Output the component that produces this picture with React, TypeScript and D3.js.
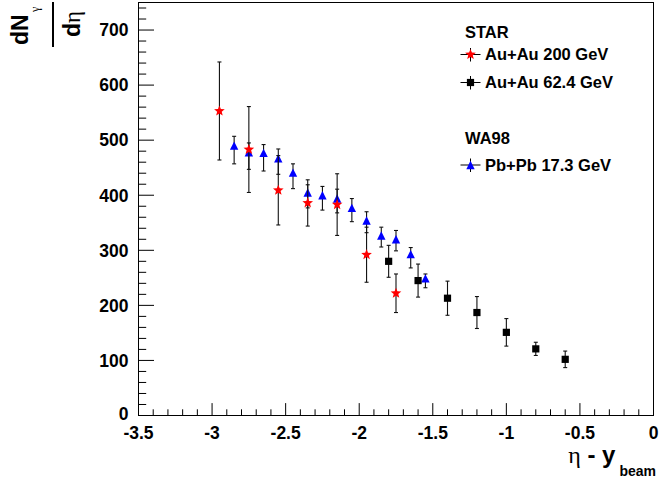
import React from "react";
import * as d3 from "d3";

// STAR Au+Au 200 GeV
const starX = [-2.95, -2.75, -2.55, -2.35, -2.15, -1.95, -1.75];
const starY = [553, 483, 409, 386, 383, 292, 222];
const starErr = [89, 78, 63, 42, 56, 50, 35];

// STAR Au+Au 62.4 GeV
const sqX = [-1.8, -1.6, -1.4, -1.2, -1.0, -0.8, -0.6];
const sqY = [280, 245, 213, 187, 151, 121, 102];
const sqErr = [29, 30, 31, 29, 25, 12, 15];

// WA98 Pb+Pb 17.3 GeV (asymmetric errors)
const triX = [-2.85, -2.75, -2.65, -2.55, -2.45, -2.35, -2.25, -2.15, -2.05, -1.95, -1.85, -1.75, -1.65, -1.55];
const triY = [490, 478, 477, 467, 441, 405, 400, 394, 377, 354, 327, 320, 293, 249];
const triErrHigh = [17, 17, 15, 17, 16, 14, 16, 17, 17, 16, 15, 16, 12, 8];
const triErrLow = [33, 31, 33, 29, 29, 28, 27, 26, 25, 22, 21, 21, 25, 17];

const xTicks = [-3.5, -3, -2.5, -2, -1.5, -1, -0.5, 0];
const xTickLabels = ["-3.5", "-3", "-2.5", "-2", "-1.5", "-1", "-0.5", "0"];
const yTicks = [0, 100, 200, 300, 400, 500, 600, 700];
const yTickLabels = ["0", "100", "200", "300", "400", "500", "600", "700"];

const W = 659;
const H = 482;
const FONT = "'Liberation Sans', Arial, Helvetica, sans-serif";
const SERIF = "'Liberation Serif', 'DejaVu Serif', serif";

const x = d3.scaleLinear().domain([-3.5, 0]).range([138.5, 653.5]);
const y = d3.scaleLinear().domain([0, 750]).range([415.5, 2.5]);

function starPath(cx: number, cy: number, R: number, r: number) {
  const pts: [number, number][] = [];
  for (let i = 0; i < 10; i++) {
    const a = -Math.PI / 2 + (i * Math.PI) / 5;
    const rad = i % 2 === 0 ? R : r;
    pts.push([cx + rad * Math.cos(a), cy + rad * Math.sin(a)]);
  }
  return d3.line()(pts) + "Z";
}

function triPath(cx: number, cy: number, h: number) {
  return d3.line()([
    [cx - h, cy + h],
    [cx + h, cy + h],
    [cx, cy - h],
  ]) + "Z";
}

type MarkerKind = "star" | "square" | "tri";

function Marker({ kind, cx, cy }: { kind: MarkerKind; cx: number; cy: number }) {
  if (kind === "star") return <path d={starPath(cx, cy, 5.6, 2.4)} fill="#ff0000" />;
  if (kind === "square") return <rect x={cx - 3.6} y={cy - 3.6} width={7.2} height={7.2} fill="#000" />;
  return <path d={triPath(cx, cy, 4.2)} fill="#0000ff" />;
}

function ErrBar({ px, lo, hi }: { px: number; lo: number; hi: number }) {
  const c = 2;
  return (
    <g stroke="#111" strokeWidth={1.1}>
      <line x1={px} x2={px} y1={lo} y2={hi} />
      <line x1={px - c} x2={px + c} y1={lo} y2={lo} />
      <line x1={px - c} x2={px + c} y1={hi} y2={hi} />
    </g>
  );
}

export default function App() {
  const xMinor = d3.range(-3.5, 0.0001, 0.1).map((v) => +v.toFixed(2));
  const yMinor = d3.range(0, 750, 20);

  const legendItems: { label: string; kind: MarkerKind; cy: number }[] = [
    { label: "Au+Au 200 GeV", kind: "star", cy: 54.5 },
    { label: "Au+Au 62.4 GeV", kind: "square", cy: 82.5 },
    { label: "Pb+Pb 17.3 GeV", kind: "tri", cy: 165 },
  ];

  return (
    <svg
      width={W}
      height={H}
      style={{ position: "absolute", left: 0, top: 0, background: "#fff" }}
      fontFamily={FONT}
    >
      <rect x={0} y={0} width={W} height={H} fill="#fff" />

      {/* frame */}
      <rect x={138.5} y={2.5} width={515} height={413} fill="none" stroke="#000" strokeWidth={1} />

      {/* axis ticks */}
      <g stroke="#000" strokeWidth={1}>
        {yMinor.map((v) => {
          const major = v % 100 === 0;
          return <line key={"ym" + v} x1={138.5} x2={138.5 + (major ? 15.5 : 7.7)} y1={y(v)} y2={y(v)} />;
        })}
        {xMinor.map((v, i) => {
          const major = i % 5 === 0;
          return <line key={"xm" + i} x1={x(v)} x2={x(v)} y1={415.5} y2={415.5 - (major ? 12.4 : 6.2)} />;
        })}
      </g>

      {/* tick labels */}
      <g fontWeight="bold" fontSize={17.5} fill="#000">
        {yTicks.map((v, i) => (
          <text key={"yl" + v} x={128.5} y={y(v) - (v === 0 ? 2 : 0)} dy="0.36em" textAnchor="end">
            {yTickLabels[i]}
          </text>
        ))}
        {xTicks.map((v, i) => (
          <text key={"xl" + v} x={x(v)} y={439} textAnchor="middle">
            {xTickLabels[i]}
          </text>
        ))}
      </g>

      {/* x axis title */}
      <text x={656} y={463} textAnchor="end" fontSize={24} fill="#000">
        <tspan fontFamily={SERIF}>η</tspan>
        <tspan fontWeight="bold"> - y</tspan>
        <tspan fontWeight="bold" fontSize={14} dy={13} dx={4}>beam</tspan>
      </text>

      {/* y axis title: dN^γ / dη, rotated */}
      <g transform="translate(53,25) rotate(-90)" fill="#000">
        <text x={-20} y={-25} fontSize={23} fontWeight="bold">dN</text>
        <text x={13} y={-14} fontSize={12} fontFamily={SERIF}>γ</text>
        <line x1={-22} x2={23} y1={0} y2={0} stroke="#000" strokeWidth={2} />
        <text x={-12} y={27} fontSize={23}>
          <tspan fontWeight="bold">d</tspan>
          <tspan fontFamily={SERIF}>η</tspan>
        </text>
      </g>

      {/* WA98 */}
      {triX.map((v, i) => (
        <ErrBar key={"te" + i} px={x(v)} lo={y(triY[i] - triErrLow[i])} hi={y(triY[i] + triErrHigh[i])} />
      ))}
      {triX.map((v, i) => (
        <Marker key={"tm" + i} kind="tri" cx={x(v)} cy={y(triY[i])} />
      ))}

      {/* Au+Au 62.4 GeV */}
      {sqX.map((v, i) => (
        <ErrBar key={"se" + i} px={x(v)} lo={y(sqY[i] - sqErr[i])} hi={y(sqY[i] + sqErr[i])} />
      ))}
      {sqX.map((v, i) => (
        <Marker key={"sm" + i} kind="square" cx={x(v)} cy={y(sqY[i])} />
      ))}

      {/* Au+Au 200 GeV */}
      {starX.map((v, i) => (
        <ErrBar key={"re" + i} px={x(v)} lo={y(starY[i] - starErr[i])} hi={y(starY[i] + starErr[i])} />
      ))}
      {starX.map((v, i) => (
        <Marker key={"rm" + i} kind="star" cx={x(v)} cy={y(starY[i])} />
      ))}

      {/* legend */}
      <g fontWeight="bold" fontSize={16.5} fill="#000">
        <text x={465} y={38}>STAR</text>
        <text x={465} y={144}>WA98</text>
        {legendItems.map((it) => (
          <g key={it.label}>
            <line x1={460.5} x2={480.5} y1={it.cy} y2={it.cy} stroke="#000" strokeWidth={1} />
            <line x1={470.5} x2={470.5} y1={it.cy - 6.5} y2={it.cy + 7} stroke="#000" strokeWidth={1} />
            <Marker kind={it.kind} cx={470.5} cy={it.cy} />
            <text x={485} y={it.cy} dy="0.36em">
              {it.label}
            </text>
          </g>
        ))}
      </g>
    </svg>
  );
}
